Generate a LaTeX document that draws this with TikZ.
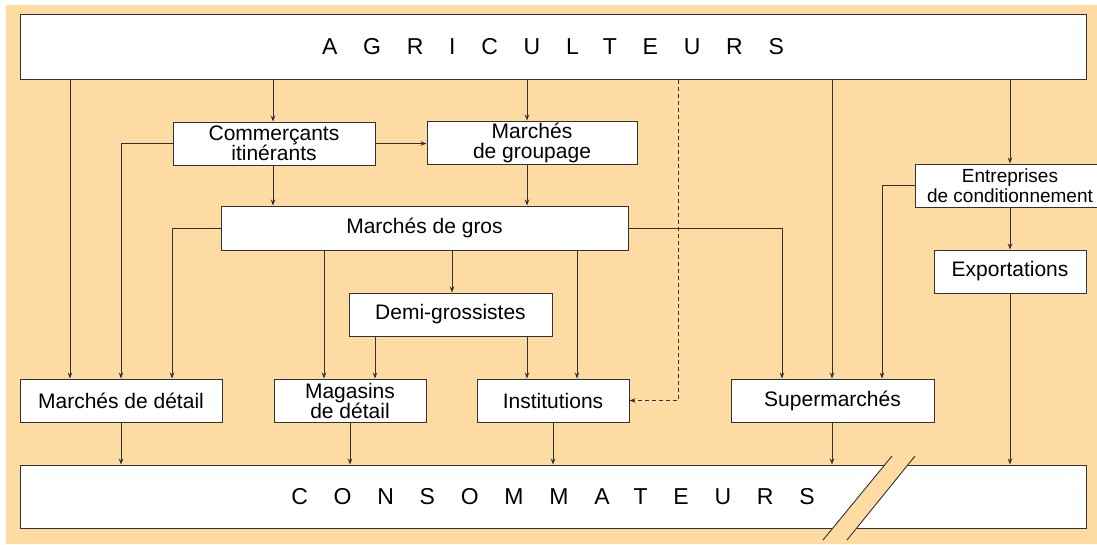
\documentclass[tikz,border=0pt]{standalone}
\usepackage{fontspec}
\setmainfont{Liberation Sans}
\newfontfamily\titlefont[LetterSpace=112]{Liberation Sans}
\usetikzlibrary{positioning,arrows.meta}
\definecolor{fond}{RGB}{253,219,162}
\definecolor{trait}{RGB}{50,50,50}
\tikzset{
  boite/.style={draw=trait, line width=1pt, fill=white, inner sep=1pt,
    align=center, font=\fontsize{21}{20}\selectfont},
  titre/.style={boite, font=\titlefont\fontsize{23}{23}\selectfont},
  fleche/.style={draw=trait, line width=0.9pt, -{Stealth[length=6pt,width=4.5pt]}},
  lien/.style={draw=trait, line width=0.9pt},
}

\begin{document}
\begin{tikzpicture}[x=1pt,y=-1pt]
    \useasboundingbox (0,0) rectangle (1097,544);
    \fill[fond] (6,5) rectangle (1097,544);
    % colonnes
    \foreach \c in {70,121,172,273,324,350,375,452,527,553,577,678,782,832,882,1010}
      \coordinate (x\c) at (\c,0);
    % boites
    \node[titre, minimum width=1066pt, minimum height=65pt] (agri) at (553,46.5) {AGRICULTEURS};
    \node[titre, minimum width=1066pt, minimum height=63pt] (cons) at (553,496.5) {CONSOMMATEURS};
    \node[boite, minimum width=202pt, minimum height=43pt] (comm) at (274,143.5) {Commerçants\\itinérants};
    \node[boite, minimum width=210pt, minimum height=43pt] (group) at (532,142.5) {Marchés\\de groupage};
    \node[boite, minimum width=407pt, minimum height=44pt] (gros) at (424.5,228) {Marchés de gros};
    \node[boite, minimum width=203pt, minimum height=43pt] (demi) at (450.5,314.5) {Demi-grossistes};
    \node[boite, minimum width=202pt, minimum height=43pt] (mdet) at (121,400.5) {Marchés de détail};
    \node[boite, minimum width=152pt, minimum height=43pt] (mag) at (350,400.5) {Magasins\\de détail};
    \node[boite, minimum width=152pt, minimum height=43pt] (inst) at (553,400.5) {Institutions};
    \node[boite, minimum width=203pt, minimum height=43pt] (super) at (832.5,400.5) {Supermarchés};
    \node[boite, minimum width=190pt, minimum height=43pt, font=\fontsize{19}{20}\selectfont] (entr) at (1010,185.5) {Entreprises\\de conditionnement};
    \node[boite, minimum width=152pt, minimum height=43pt] (exp) at (1010,271.5) {Exportations};
    % coupure
    \fill[fond] (823,540) -- (892,456) -- (915,456) -- (847,540) -- cycle;
    \draw[lien] (823,540) -- (892,456);
    \draw[lien] (847,540) -- (915,456);
    % depuis les agriculteurs
    \draw[fleche] (agri.south -| x70) -- (mdet.north -| x70);
    \draw[fleche] (agri.south -| x273) -- (comm.north -| x273);
    \draw[fleche] (agri.south -| x527) -- (group.north -| x527);
    \draw[fleche, dash pattern=on 4pt off 3pt] (agri.south -| x678) |- (inst.east);
    \draw[fleche] (agri.south -| x832) -- (super.north -| x832);
    \draw[fleche] (agri.south -| x1010) -- (entr.north -| x1010);
    % commercants et groupage
    \draw[fleche] (comm.west) -| (mdet.north -| x121);
    \draw[fleche] (comm.east) -- (group.west |- comm.east);
    \draw[fleche] (comm.south -| x273) -- (gros.north -| x273);
    \draw[fleche] (group.south -| x527) -- (gros.north -| x527);
    % marches de gros
    \draw[fleche] (gros.west) -| (mdet.north -| x172);
    \draw[fleche] (gros.east) -| (super.north -| x782);
    \draw[fleche] (gros.south -| x324) -- (mag.north -| x324);
    \draw[fleche] (gros.south -| x452) -- (demi.north -| x452);
    \draw[fleche] (gros.south -| x577) -- (inst.north -| x577);
    % demi-grossistes
    \draw[fleche] (demi.south -| x375) -- (mag.north -| x375);
    \draw[fleche] (demi.south -| x527) -- (inst.north -| x527);
    % conditionnement
    \draw[fleche] (entr.west) -| (super.north -| x882);
    \draw[fleche] (entr.south -| x1010) -- (exp.north -| x1010);
    % vers les consommateurs
    \draw[fleche] (exp.south -| x1010) -- (cons.north -| x1010);
    \draw[fleche] (mdet.south -| x121) -- (cons.north -| x121);
    \draw[fleche] (mag.south -| x350) -- (cons.north -| x350);
    \draw[fleche] (inst.south -| x553) -- (cons.north -| x553);
    \draw[fleche] (super.south -| x832) -- (cons.north -| x832);
\end{tikzpicture}
\end{document}
